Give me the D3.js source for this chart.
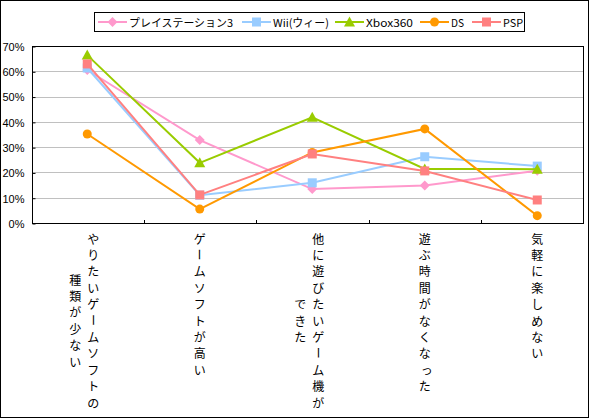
<!DOCTYPE html>
<html><head><meta charset="utf-8">
<script src="https://cdnjs.cloudflare.com/ajax/libs/d3/7.8.5/d3.min.js"></script>
<style>body{margin:0;background:#fff}svg{display:block}</style>
</head><body><svg id="c" width="590" height="419"></svg>
<script>
const categories = ["c1","c2","c3","c4","c5"];
const categoryLabels = [
  ["やりたいゲームソフトの","種類が少ない"],
  ["ゲームソフトが高い"],
  ["他に遊びたいゲーム機が","できた"],
  ["遊ぶ時間がなくなった"],
  ["気軽に楽しめない"]
];
const seriesNames = ["プレイステーション3","Wii(ウィー)","Xbox360","DS","PSP"];
const ps3 = [0.605, 0.328, 0.134, 0.148, 0.207];
const wii = [0.613, 0.110, 0.159, 0.262, 0.225];
const xbox = [0.664, 0.238, 0.418, 0.214, 0.213];
const ds = [0.352, 0.055, 0.279, 0.372, 0.029];
const psp = [0.629, 0.111, 0.273, 0.206, 0.091];
const yTicks = [0,0.1,0.2,0.3,0.4,0.5,0.6,0.7];
const yTickLabels = ["0%","10%","20%","30%","40%","50%","60%","70%"];

const colors = ["#FF99CC","#99CCFF","#99CC00","#FF9900","#FF8080"];
const markers = ["diamond","square","triangle","circle","square"];
const data = [ps3, wii, xbox, ds, psp];

const svg = d3.select("#c");
const L = 32, R = 583, T = 46, B = 223;
const x = d3.scaleBand().domain(categories).range([31, 593.5]);
const y = d3.scaleLinear().domain([0, 0.7]).range([B, T]);
const font = "'Noto Sans CJK JP', 'Liberation Sans', sans-serif";

// outer border
svg.append("rect").attr("x",0.5).attr("y",0.5).attr("width",588).attr("height",417)
  .attr("fill","#fff").attr("stroke","#000").attr("stroke-width",1);

// gridlines
svg.append("g").selectAll("line").data(yTicks.filter(t => t > 0 && t < 0.7)).join("line")
  .attr("x1", L).attr("x2", R).attr("y1", d => Math.round(y(d))+0.5).attr("y2", d => Math.round(y(d))+0.5)
  .attr("stroke", "#c0c0c0").attr("stroke-width", 1);

// plot frame
svg.append("rect").attr("x", L+0.5).attr("y", T+0.5).attr("width", R-L).attr("height", B-T)
  .attr("fill","none").attr("stroke","#000").attr("stroke-width",1);

// y axis
const yAxis = d3.axisLeft(y).tickValues(yTicks).tickFormat((d,i) => yTickLabels[i]).tickSizeInner(-3).tickSizeOuter(0).tickPadding(8);
const gy = svg.append("g").attr("transform", `translate(${L+0.5},0.5)`).call(yAxis);
gy.select(".domain").remove();
gy.selectAll("line").attr("stroke","#000");
gy.selectAll("text").attr("font-family", "'Liberation Sans', Arial, sans-serif").attr("font-size", 11).attr("fill","#000").attr("dy","0.35em");

// x ticks (category boundaries, inward)
const bounds = categories.slice(1).map(c => x(c));
svg.append("g").selectAll("line").data(bounds).join("line")
  .attr("x1", d => Math.round(d)+0.5).attr("x2", d => Math.round(d)+0.5)
  .attr("y1", B+0.5).attr("y2", B-3).attr("stroke","#000");

// x labels (vertical)
const lh = 16.4, top0 = 238;
categories.forEach((c, i) => {
  const cx = x(c) + x.bandwidth()/2;
  const cols = categoryLabels[i];
  const maxLen = cols[0].length;
  const mid = top0 + (maxLen-1)*lh/2;
  const g = svg.append("g");
  cols.forEach((txt, j) => {
    const colX = cols.length === 1 ? cx : cx + 6 - j*18;
    const chars = Array.from(txt);
    const start = j === 0 ? top0 : mid - (chars.length-1)*lh/2;
    chars.forEach((ch, k) => {
      const cy = start + k*lh;
      const t = g.append("text").text(ch)
        .attr("font-family", font).attr("font-size", 12).attr("fill","#000")
        .attr("text-anchor","middle").attr("dominant-baseline","central");
      if (ch === "ー") {
        t.attr("transform", `translate(${colX},${cy}) rotate(90)`);
      } else if ("っゃゅょァィゥェォッ".includes(ch)) {
        t.attr("x", colX+2).attr("y", cy);
      } else {
        t.attr("x", colX).attr("y", cy);
      }
    });
  });
});

function drawMarker(g, type, cx, cy, color) {
  if (type === "diamond") {
    const s = 5;
    g.append("path").attr("d", `M${cx},${cy-s}L${cx+s},${cy}L${cx},${cy+s}L${cx-s},${cy}Z`).attr("fill", color);
  } else if (type === "square") {
    g.append("rect").attr("x", cx-4.5).attr("y", cy-4.5).attr("width", 9).attr("height", 9).attr("fill", color);
  } else if (type === "triangle") {
    g.append("path").attr("d", `M${cx},${cy-5.5}L${cx+5.5},${cy+4.5}L${cx-5.5},${cy+4.5}Z`).attr("fill", color);
  } else {
    g.append("circle").attr("cx", cx).attr("cy", cy).attr("r", 4.5).attr("fill", color);
  }
}

// series
const line = d3.line().x((d,i) => x(categories[i]) + x.bandwidth()/2).y(d => y(d));
data.forEach((vals, si) => {
  const g = svg.append("g");
  g.append("path").attr("d", line(vals)).attr("fill","none").attr("stroke", colors[si]).attr("stroke-width", 2);
  vals.forEach((v, i) => drawMarker(g, markers[si], x(categories[i]) + x.bandwidth()/2, y(v), colors[si]));
});

// legend
const lg = svg.append("g");
lg.append("rect").attr("x", 94.5).attr("y", 12.5).attr("width", 430).attr("height", 19)
  .attr("fill","#fff").attr("stroke","#000").attr("stroke-width",1);
const legX = [98, 242, 335, 420, 472];
const legTextW = [104, 56, 47, 13, 20];
seriesNames.forEach((n, i) => {
  const lx = legX[i], ly = 22;
  lg.append("line").attr("x1", lx).attr("x2", lx+29).attr("y1", ly).attr("y2", ly).attr("stroke", colors[i]).attr("stroke-width", 2);
  drawMarker(lg, markers[i], lx+14.5, ly, colors[i]);
  lg.append("text").text(n).attr("x", lx+31).attr("y", ly).attr("dominant-baseline","central")
    .attr("font-family", font).attr("font-size", 11).attr("fill","#000")
    .attr("textLength", legTextW[i]).attr("lengthAdjust","spacingAndGlyphs");
});
</script>
</body></html>
